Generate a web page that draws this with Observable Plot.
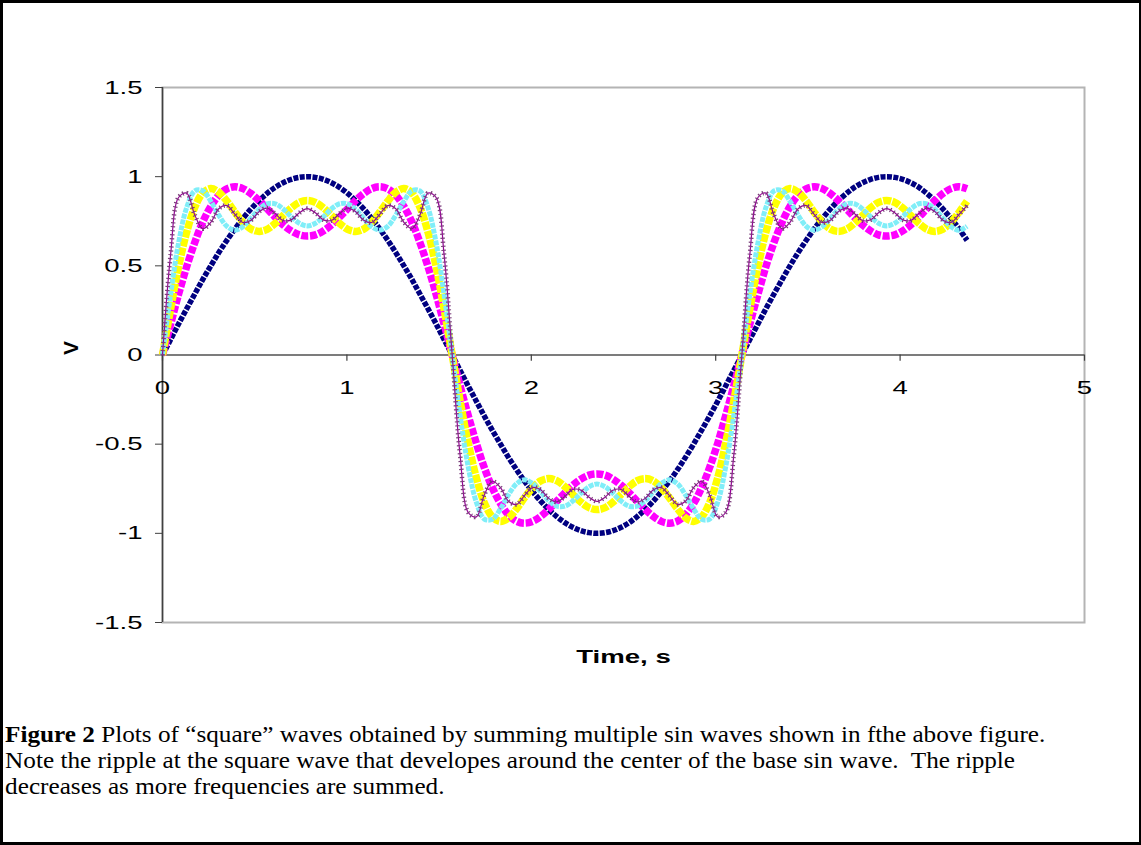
<!DOCTYPE html>
<html><head><meta charset="utf-8">
<script src="https://cdn.jsdelivr.net/npm/d3@7"></script>
<script src="https://cdn.jsdelivr.net/npm/@observablehq/plot@0.6"></script>
<style>
html,body{margin:0;padding:0;background:#fff;}
#page{position:relative;width:1141px;height:845px;box-sizing:border-box;border:3px solid #000;border-right-width:2px;overflow:hidden;background:#fff;}
#chart svg{display:block;}
#caption{font-family:"Liberation Serif","Times New Roman",serif;font-size:24px;line-height:26px;color:#000;padding:18px 0 0 2px;white-space:nowrap;transform:scaleX(1.05);transform-origin:0 0;}
</style></head><body>
<div id="page"><div id="chart"></div>
<div id="caption"><b>Figure 2</b> Plots of “square” waves obtained by summing multiple sin waves shown in fthe above figure.<br>Note the ripple at the square wave that developes around the center of the base sin wave.&nbsp; The ripple<br>decreases as more frequencies are summed.</div></div>
<script>
const time = [
0,0.044,0.087,0.131,0.175,0.218,0.262,0.305,0.349,0.393,
0.436,0.480,0.524,0.567,0.611,0.654,0.698,0.742,0.785,0.829,
0.873,0.916,0.960,1.004,1.047,1.091,1.134,1.178,1.222,1.265,
1.309,1.353,1.396,1.440,1.484,1.527,1.571,1.614,1.658,1.702,
1.745,1.789,1.833,1.876,1.920,1.963,2.007,2.051,2.094,2.138,
2.182,2.225,2.269,2.313,2.356,2.400,2.443,2.487,2.531,2.574,
2.618,2.662,2.705,2.749,2.793,2.836,2.880,2.923,2.967,3.011,
3.054,3.098,3.142,3.185,3.229,3.272,3.316,3.360,3.403,3.447,
3.491,3.534,3.578,3.622,3.665,3.709,3.752,3.796,3.840,3.883,
3.927,3.971,4.014,4.058,4.102,4.145,4.189,4.232,4.276,4.320,
4.363];

const navyV = [
0,.087,.174,.259,.342,.423,.5,.574,.643,.707,.766,.819,.866,.906,.94,.966,.985,.996,1,
.996,.985,.966,.94,.906,.866,.819,.766,.707,.643,.574,.5,.423,.342,.259,.174,.087,0,
-.087,-.174,-.259,-.342,-.423,-.5,-.574,-.643,-.707,-.766,-.819,-.866,-.906,-.94,-.966,-.985,-.996,-1,
-.996,-.985,-.966,-.94,-.906,-.866,-.819,-.766,-.707,-.643,-.574,-.5,-.423,-.342,-.259,-.174,-.087,0,
.087,.174,.259,.342,.423,.5,.574,.643,.707,.766,.819,.866,.906,.94,.966,.985,.996,1,
.996,.985,.966,.94,.906,.866,.819,.766,.707,.643];

const magentaV = [
0,.173,.34,.495,.631,.745,.833,.896,.932,.943,.933,.905,.866,.82,.773,.73,.696,.674,.667,
.674,.696,.73,.773,.82,.866,.905,.933,.943,.932,.896,.833,.745,.631,.495,.34,.173,0,
-.173,-.34,-.495,-.631,-.745,-.833,-.896,-.932,-.943,-.933,-.905,-.866,-.82,-.773,-.73,-.696,-.674,-.667,
-.674,-.696,-.73,-.773,-.82,-.866,-.905,-.933,-.943,-.932,-.896,-.833,-.745,-.631,-.495,-.34,-.173,0,
.173,.34,.495,.631,.745,.833,.896,.932,.943,.933,.905,.866,.82,.773,.73,.696,.674,.667,
.674,.696,.73,.773,.82,.866,.905,.933,.943,.932];

const yellowV = [
0,.258,.494,.688,.828,.908,.933,.913,.863,.801,.745,.706,.693,.705,.738,.782,.825,.856,.867,
.856,.825,.782,.738,.705,.693,.706,.745,.801,.863,.913,.933,.908,.828,.688,.494,.258,0,
-.258,-.494,-.688,-.828,-.908,-.933,-.913,-.863,-.801,-.745,-.706,-.693,-.705,-.738,-.782,-.825,-.856,-.867,
-.856,-.825,-.782,-.738,-.705,-.693,-.706,-.745,-.801,-.863,-.913,-.933,-.908,-.828,-.688,-.494,-.258,0,
.258,.494,.688,.828,.908,.933,.913,.863,.801,.745,.706,.693,.705,.738,.782,.825,.856,.867,
.856,.825,.782,.738,.705,.693,.706,.745,.801,.863];

const cyanV = [
0,.34,.628,.826,.92,.921,.862,.784,.722,.7,.72,.767,.817,.848,.848,.819,.776,.739,.724,
.739,.776,.819,.848,.848,.817,.767,.72,.7,.722,.784,.862,.921,.92,.826,.628,.34,0,
-.34,-.628,-.826,-.92,-.921,-.862,-.784,-.722,-.7,-.72,-.767,-.817,-.848,-.848,-.819,-.776,-.739,-.724,
-.739,-.776,-.819,-.848,-.848,-.817,-.767,-.72,-.7,-.722,-.784,-.862,-.921,-.92,-.826,-.628,-.34,0,
.34,.628,.826,.92,.921,.862,.784,.722,.7,.72,.767,.817,.848,.848,.819,.776,.739,.724,
.739,.776,.819,.848,.848,.817,.767,.72,.7,.722];

const purpleV = [
0,.563,.883,.908,.785,.708,.744,.82,.838,.789,.743,.756,.804,.824,.793,.754,.758,.797,.821,
.797,.758,.754,.793,.824,.804,.756,.743,.789,.838,.82,.744,.708,.785,.908,.883,.563,0,
-.563,-.883,-.908,-.785,-.708,-.744,-.82,-.838,-.789,-.743,-.756,-.804,-.824,-.793,-.754,-.758,-.797,-.821,
-.797,-.758,-.754,-.793,-.824,-.804,-.756,-.743,-.789,-.838,-.82,-.744,-.708,-.785,-.908,-.883,-.563,0,
.563,.883,.908,.785,.708,.744,.82,.838,.789,.743,.756,.804,.824,.793,.754,.758,.797,.821,
.797,.758,.754,.793,.824,.804,.756,.743,.789,.838];

const xTicks = [0, 1, 2, 3, 4, 5];
const yTicks = [-1.5, -1, -0.5, 0, 0.5, 1, 1.5];
const xTitle = "Time, s";
const yTitle = "V";

const rows = vals => time.map((t, i) => ({t, v: vals[i]}));
const curve = "catmull-rom";
const butt = {strokeLinecap: "butt", strokeLinejoin: "round", curve};

const chart = Plot.plot({
  width: 1136, height: 700,
  marginLeft: 159, marginRight: 55, marginTop: 84, marginBottom: 81,
  style: {fontFamily: '"Liberation Sans", Arial, sans-serif', fontSize: "19px", color: "#000", background: "transparent"},
  x: {domain: [0, 5], axis: null},
  y: {domain: [-1.5, 1.5]},
  marks: [
    Plot.frame({stroke: "#b4b4b4", strokeWidth: 2}),
    Plot.axisY({ticks: yTicks, tickFormat: d => String(d), tickSize: 7, tickPadding: 13, stroke: "#404040", label: null}),
    Plot.ruleY([0], {stroke: "#505050", strokeWidth: 1.5}),
    Plot.ruleX([0], {stroke: "#404040", strokeWidth: 1.5}),
    Plot.ruleX(xTicks, {x: d => d, y1: 0, y2: -0.035, stroke: "#404040", strokeWidth: 1.2}),
    Plot.text(xTicks, {x: d => d, y: 0, dy: 33, text: d => String(d)}),
    Plot.text([xTitle], {frameAnchor: "bottom", dy: 40, text: d => d, fontWeight: "bold"}),
    Plot.text([yTitle], {frameAnchor: "left", dx: -91, rotate: -90, text: d => d, fontWeight: "bold", fontSize: 21}),
    Plot.line(rows(navyV), {x: "t", y: "v", stroke: "#000080", strokeWidth: 5.5, strokeDasharray: "5,1.4", ...butt}),
    Plot.line(rows(magentaV), {x: "t", y: "v", stroke: "#ff00ff", strokeWidth: 7.5, strokeDasharray: "7,1.8", ...butt}),
    Plot.line(rows(yellowV), {x: "t", y: "v", stroke: "#ffff00", strokeWidth: 7.5, strokeDasharray: "8,1.2", ...butt}),
    Plot.line(rows(cyanV), {x: "t", y: "v", stroke: "#80eef8", strokeWidth: 5, strokeDasharray: "5,1", ...butt}),
    Plot.line(rows(purpleV), {x: "t", y: "v", stroke: "#990099", strokeWidth: 1.2, curve}),
    Plot.line(rows(purpleV), {x: "t", y: "v", stroke: "#7b3f7b", strokeWidth: 4.5, strokeDasharray: "1.2,2.8", ...butt})
  ]
});
document.getElementById("chart").appendChild(chart);
// horizontal stretch of chart text, as in the reference picture
chart.querySelectorAll("text").forEach(t => {
  const tr = (t.getAttribute("transform") || "") + (t.parentNode.getAttribute("transform") || "");
  if (tr.includes("rotate")) return;
  const w = t.getComputedTextLength();
  t.setAttribute("textLength", (w * 1.45).toFixed(1));
  t.setAttribute("lengthAdjust", "spacingAndGlyphs");
});
</script>
</body></html>
